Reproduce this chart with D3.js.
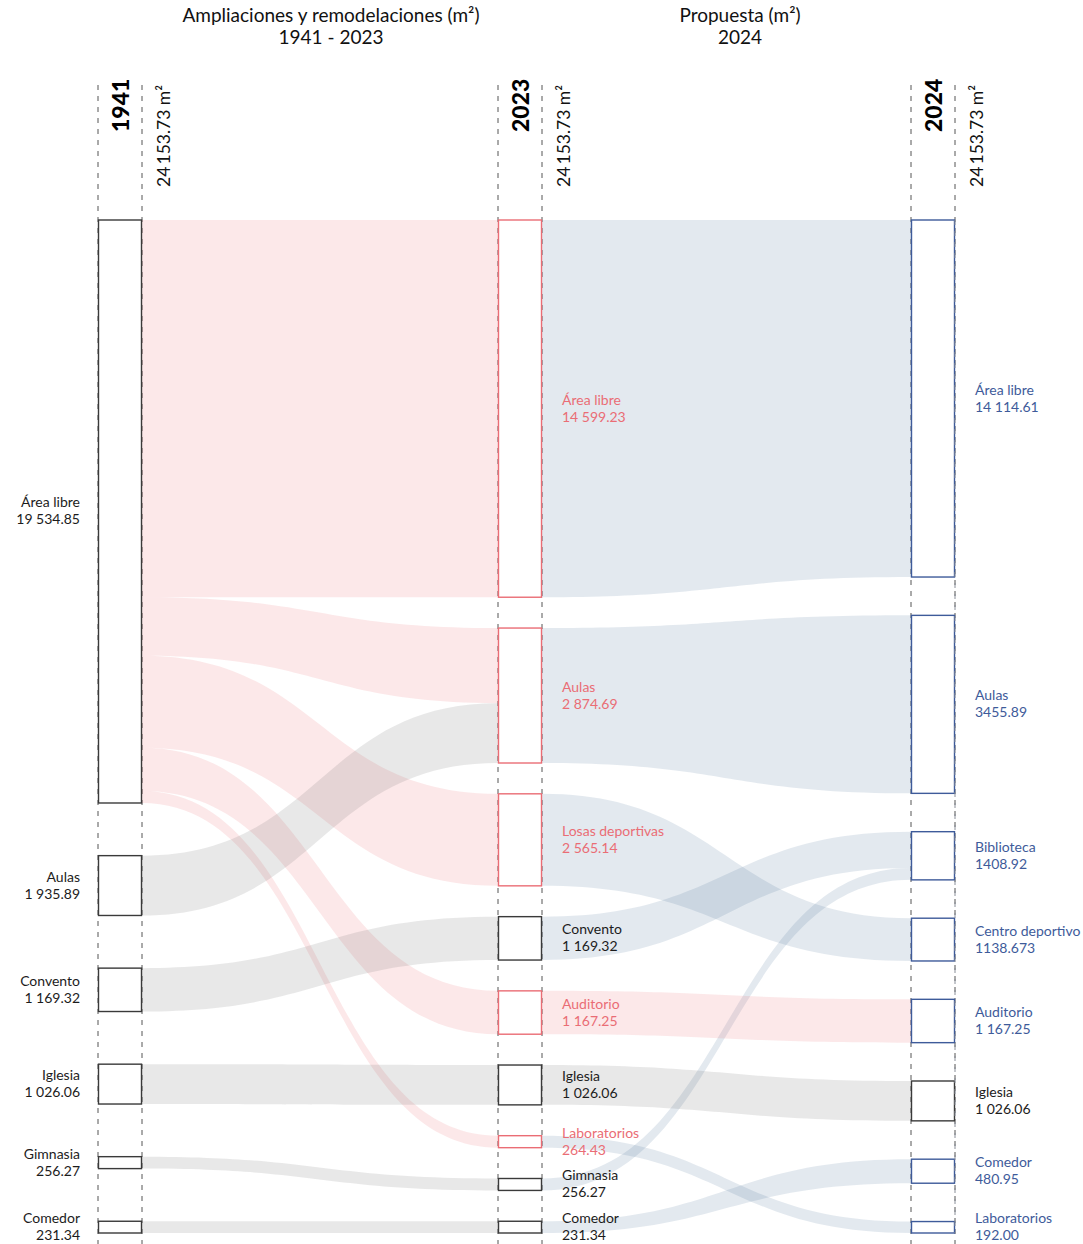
<!DOCTYPE html>
<html lang="es">
<head>
<meta charset="utf-8">
<script src="https://cdn.jsdelivr.net/npm/d3@7"></script>
<style>
  html, body { margin: 0; padding: 0; background: #fff; }
  svg { display: block; font-family: Lato, "Open Sans", sans-serif; }
</style>
</head>
<body>
<svg id="chart" width="1083" height="1244"></svg>
<script>
// ---- Datos -------------------------------------------------------------
const years = ["1941", "2023", "2024"];
const columnTotals = [24153.73, 24153.73, 24153.73];

const names1941  = ["Área libre", "Aulas", "Convento", "Iglesia", "Gimnasia", "Comedor"];
const values1941 = [19534.85, 1935.89, 1169.32, 1026.06, 256.27, 231.34];
const labels1941 = ["19 534.85", "1 935.89", "1 169.32", "1 026.06", "256.27", "231.34"];
const kinds1941  = ["base", "base", "base", "base", "base", "base"];

const names2023  = ["Área libre", "Aulas", "Losas deportivas", "Convento", "Auditorio", "Iglesia", "Laboratorios", "Gimnasia", "Comedor"];
const values2023 = [14599.23, 2874.69, 2565.14, 1169.32, 1167.25, 1026.06, 264.43, 256.27, 231.34];
const labels2023 = ["14 599.23", "2 874.69", "2 565.14", "1 169.32", "1 167.25", "1 026.06", "264.43", "256.27", "231.34"];
const kinds2023  = ["nuevo", "nuevo", "nuevo", "base", "nuevo", "base", "nuevo", "base", "base"];

const names2024  = ["Área libre", "Aulas", "Biblioteca", "Centro deportivo", "Auditorio", "Iglesia", "Comedor", "Laboratorios"];
const values2024 = [14114.61, 3455.89, 1408.92, 1138.673, 1167.25, 1026.06, 480.95, 192.00];
const labels2024 = ["14 114.61", "3455.89", "1408.92", "1138.673", "1 167.25", "1 026.06", "480.95", "192.00"];
const kinds2024  = ["propuesta", "propuesta", "propuesta", "propuesta", "propuesta", "base", "propuesta", "propuesta"];

// [origen, destino, m², tipo de flujo]
const flows1941to2023 = [
  ["Área libre", "Área libre", 14599.23, "nuevo"],
  ["Área libre", "Aulas", 938.80, "nuevo"],
  ["Área libre", "Losas deportivas", 2565.14, "nuevo"],
  ["Área libre", "Auditorio", 1167.25, "nuevo"],
  ["Área libre", "Laboratorios", 264.43, "nuevo"],
  ["Aulas", "Aulas", 1935.89, "base"],
  ["Convento", "Convento", 1169.32, "base"],
  ["Iglesia", "Iglesia", 1026.06, "base"],
  ["Gimnasia", "Gimnasia", 256.27, "base"],
  ["Comedor", "Comedor", 231.34, "base"]
];
const flows2023to2024 = [
  ["Área libre", "Área libre", 14114.61, "propuesta"],
  ["Aulas", "Aulas", 2874.69, "propuesta"],
  ["Losas deportivas", "Centro deportivo", 1138.673, "propuesta"],
  ["Convento", "Biblioteca", 1152.65, "propuesta"],
  ["Gimnasia", "Biblioteca", 256.27, "propuesta"],
  ["Auditorio", "Auditorio", 1167.25, "nuevo"],
  ["Iglesia", "Iglesia", 1026.06, "base"],
  ["Laboratorios", "Laboratorios", 192.00, "propuesta"],
  ["Comedor", "Comedor", 231.34, "propuesta"]
];

// ---- Estilos ------------------------------------------------------------
const strokeColor = { base: "#3a3a3a", nuevo: "#ea6d75", propuesta: "#3e5b9a" };
const textColor   = { base: "#1c1c1c", nuevo: "#ea6d75", propuesta: "#3e5b9a" };
const flowColor   = { base: "rgb(100,100,100)", nuevo: "rgb(232,100,110)", propuesta: "rgb(70,110,150)" };

// ---- Escalas ------------------------------------------------------------
const svg = d3.select("#chart");
const yTop = 220, yBottom = 1233, nodeW = 44;
const colX = d3.scaleOrdinal().domain(years).range([98, 498, 911]);
// altura de cada bloque según su superficie (escala polilineal)
const hScale = d3.scaleLinear()
  .domain([0, 265, 480, 1100, 1900, 2565, 2875, 3456, 14114, 19535])
  .range([10, 12, 24, 42, 58, 92, 135, 178, 357, 583]);

const columns = [
  { year: "1941", names: names1941, values: values1941, labels: labels1941, kinds: kinds1941, side: "left" },
  { year: "2023", names: names2023, values: values2023, labels: labels2023, kinds: kinds2023, side: "right" },
  { year: "2024", names: names2024, values: values2024, labels: labels2024, kinds: kinds2024, side: "right" }
];

// ---- Disposición de bloques --------------------------------------------
columns.forEach(col => {
  const hs = col.values.map(v => hScale(v));
  const gap = (yBottom - yTop - d3.sum(hs)) / (hs.length - 1);
  let y = yTop;
  col.nodes = col.names.map((n, i) => {
    const node = { name: n, value: col.values[i], label: col.labels[i], kind: col.kinds[i],
                   x0: colX(col.year), x1: colX(col.year) + nodeW, y0: y, y1: y + hs[i], h: hs[i],
                   out: [], in: [] };
    y += hs[i] + gap;
    return node;
  });
  col.byName = new Map(col.nodes.map(d => [d.name, d]));
});

const links = [];
[[flows1941to2023, 0], [flows2023to2024, 1]].forEach(([flows, c]) => {
  flows.forEach(([s, t, v, k]) => {
    const l = { source: columns[c].byName.get(s), target: columns[c + 1].byName.get(t), value: v, kind: k };
    l.source.out.push(l); l.target.in.push(l);
    links.push(l);
  });
});

// Reparte la altura del bloque entre sus flujos: un flujo que lleva todo el
// bloque del otro extremo conserva su grosor; el resto se reparte por superficie.
function distribute(node, list, otherKey, wKey, yKey) {
  list.sort((a, b) => a[otherKey].y0 - b[otherKey].y0);
  const whole = list.map(l => Math.abs(l.value - l[otherKey].value) < 0.01 ? l[otherKey].h : null);
  const fixed = d3.sum(whole.filter(w => w !== null));
  const free = list.filter((l, i) => whole[i] === null);
  const freeSum = d3.sum(free, l => l.value);
  const rest = node.h - fixed;
  const w = list.map((l, i) => whole[i] !== null ? whole[i]
    : (rest > 0 ? rest * l.value / freeSum : hScale(l.value)));
  const k = node.h / d3.sum(w);
  let y = node.y0;
  list.forEach((l, i) => { l[yKey] = y; l[wKey] = w[i] * k; y += w[i] * k; });
}
columns.forEach(col => col.nodes.forEach(n => {
  if (n.out.length) distribute(n, n.out, "target", "ws", "ys");
  if (n.in.length)  distribute(n, n.in, "source", "wt", "yt");
}));

function bandPath(l) {
  const x0 = l.source.x1, x1 = l.target.x0, xm = (x0 + x1) / 2;
  const p = d3.path();
  p.moveTo(x0, l.ys);
  p.bezierCurveTo(xm, l.ys, xm, l.yt, x1, l.yt);
  p.lineTo(x1, l.yt + l.wt);
  p.bezierCurveTo(xm, l.yt + l.wt, xm, l.ys + l.ws, x0, l.ys + l.ws);
  p.closePath();
  return p.toString();
}

// ---- Títulos --------------------------------------------------------------
const titles = [
  { x: 331, lines: ["Ampliaciones y remodelaciones (m²)", "1941 - 2023"] },
  { x: 740, lines: ["Propuesta (m²)", "2024"] }
];
titles.forEach(t => {
  const txt = svg.append("text").attr("x", t.x).attr("y", 22)
    .attr("text-anchor", "middle").attr("font-size", 19).attr("fill", "#111");
  t.lines.forEach((s, i) => txt.append("tspan").attr("x", t.x).attr("dy", i ? 22 : 0).text(s));
});

// ---- Guías discontinuas -----------------------------------------------------
const guides = svg.append("g");
years.forEach(y => {
  [0, nodeW].forEach(dx => guides.append("line")
    .attr("x1", colX(y) + dx).attr("x2", colX(y) + dx)
    .attr("y1", 85).attr("y2", 1244)
    .attr("stroke", "#555").attr("stroke-width", 1).attr("stroke-dasharray", "5,6"));
});

// ---- Cabeceras de columna ---------------------------------------------------
columns.forEach((col, i) => {
  const x = colX(col.year);
  svg.append("text")
    .attr("transform", `translate(${x + 31},132) rotate(-90)`)
    .attr("font-size", 23).attr("font-weight", 900).attr("fill", "#000")
    .text(col.year);
  svg.append("text")
    .attr("transform", `translate(${x + 72},187) rotate(-90)`)
    .attr("font-size", 17.5).attr("fill", "#111")
    .text(d3.format(",.2f")(columnTotals[i]).replace(",", "\u2009") + " m²");
});

// ---- Flujos -------------------------------------------------------------------
svg.append("g").selectAll("path").data(links).join("path")
  .attr("d", bandPath)
  .attr("fill", d => flowColor[d.kind])
  .attr("fill-opacity", 0.15);

// ---- Bloques y etiquetas --------------------------------------------------------
columns.forEach(col => {
  const g = svg.append("g");
  g.selectAll("rect").data(col.nodes).join("rect")
    .attr("x", d => d.x0 + 0.5).attr("y", d => d.y0)
    .attr("width", nodeW - 1).attr("height", d => d.h)
    .attr("fill", "#fff")
    .attr("stroke", d => strokeColor[d.kind]).attr("stroke-width", 1.4);

  const left = col.side === "left";
  const lx = left ? col.nodes[0].x0 - 18 : col.nodes[0].x1 + 20;
  const lab = g.selectAll("text").data(col.nodes).join("text")
    .attr("text-anchor", left ? "end" : "start")
    .attr("font-size", 14)
    .attr("fill", d => textColor[d.kind]);
  lab.append("tspan").attr("x", lx).attr("y", d => (d.y0 + d.y1) / 2 - 4).text(d => d.name);
  lab.append("tspan").attr("x", lx).attr("y", d => (d.y0 + d.y1) / 2 + 13).text(d => d.label);
});

// guía derecha de la última columna, sobre los bloques
svg.append("line")
  .attr("x1", colX("2024") + nodeW).attr("x2", colX("2024") + nodeW)
  .attr("y1", yTop).attr("y2", yBottom)
  .attr("stroke", "#8a8f99").attr("stroke-width", 1).attr("stroke-dasharray", "5,6");
</script>
</body>
</html>
